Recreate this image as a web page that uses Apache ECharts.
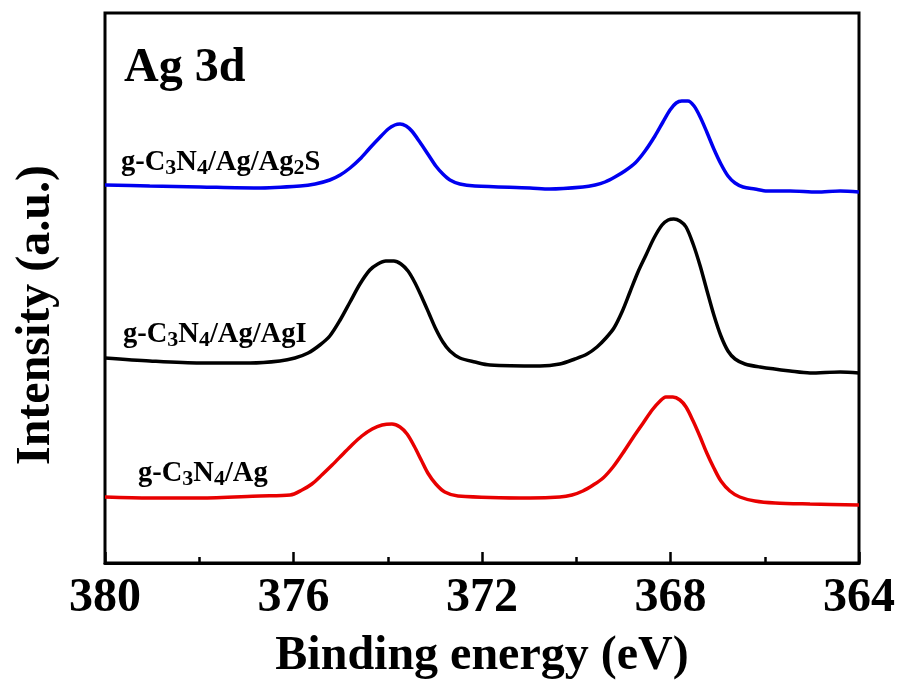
<!DOCTYPE html>
<html>
<head>
<meta charset="utf-8">
<script src="https://cdn.jsdelivr.net/npm/echarts@6/dist/echarts.min.js"></script>
<style>
  html, body { margin: 0; padding: 0; background: #fff; }
  #chart { width: 899px; height: 686px; }
</style>
</head>
<body>
<div id="chart"></div>
<script>
// Binding energy (eV) and intensity (a.u., offset-stacked)
var ag2sEnergy = [380.00, 379.05, 377.98, 376.77, 375.86, 375.54, 375.23, 375.01, 374.80, 374.59, 374.38, 374.16, 373.99, 373.85, 373.74, 373.61, 373.49, 373.32, 373.15, 372.98, 372.83, 372.68, 372.47, 372.15, 370.98, 370.56, 369.86, 369.60, 369.39, 369.18, 368.97, 368.75, 368.54, 368.33, 368.16, 368.01, 367.88, 367.76, 367.63, 367.50, 367.37, 367.23, 367.08, 366.93, 366.78, 366.63, 366.46, 366.21, 365.95, 365.46, 364.89, 364.40, 364.00];
var ag2sIntensity = [378, 377, 376, 375, 377, 379, 383, 388, 395, 404, 415, 426, 434, 438, 439, 437, 432, 421, 409, 397, 389, 383, 379, 377, 375, 374, 376, 378, 381, 386, 392, 400, 412, 427, 441, 453, 460, 462, 462, 457, 446, 431, 414, 399, 387, 380, 376, 374, 372, 372, 371, 372, 371];

var agiEnergy = [380.00, 379.05, 377.98, 376.92, 376.29, 375.97, 375.69, 375.44, 375.23, 375.01, 374.80, 374.59, 374.38, 374.21, 374.04, 373.87, 373.72, 373.57, 373.42, 373.27, 373.12, 372.98, 372.83, 372.68, 372.47, 372.15, 371.83, 370.77, 370.35, 370.03, 369.77, 369.56, 369.37, 369.20, 369.03, 368.86, 368.69, 368.52, 368.35, 368.18, 368.05, 367.93, 367.80, 367.67, 367.52, 367.37, 367.23, 367.08, 366.93, 366.78, 366.63, 366.42, 366.10, 365.46, 365.04, 364.40, 364.00];
var agiIntensity = [205, 202, 200, 200, 202, 205, 210, 218, 227, 243, 261, 279, 293, 299, 302, 302, 299, 292, 280, 265, 249, 234, 221, 212, 205, 201, 198, 197, 199, 204, 209, 216, 225, 235, 251, 271, 291, 308, 325, 338, 343, 344, 342, 336, 319, 297, 273, 248, 227, 212, 204, 199, 196, 192, 190, 191, 190];

var agEnergy = [380.00, 379.05, 377.98, 376.71, 376.07, 375.82, 375.61, 375.40, 375.18, 374.97, 374.76, 374.55, 374.33, 374.12, 373.91, 373.74, 373.59, 373.44, 373.29, 373.15, 372.98, 372.79, 372.51, 370.98, 370.35, 370.09, 369.86, 369.64, 369.43, 369.22, 369.01, 368.80, 368.58, 368.39, 368.22, 368.10, 367.95, 367.80, 367.67, 367.52, 367.37, 367.23, 367.08, 366.93, 366.74, 366.53, 366.21, 365.78, 365.04, 364.00];
var agIntensity = [66, 65, 65, 67, 68, 73, 79, 88, 98, 108, 118, 127, 134, 138, 139, 136, 129, 117, 103, 90, 79, 71, 67, 65, 66, 68, 72, 78, 85, 96, 110, 125, 140, 153, 162, 166, 166, 163, 156, 142, 126, 110, 95, 82, 72, 66, 62, 60, 59, 58];

var xTicks = [380, 376, 372, 368, 364];
var seriesNames = ['g-C3N4/Ag/Ag2S', 'g-C3N4/Ag/AgI', 'g-C3N4/Ag'];

function pairs(xs, ys) { return xs.map(function (x, i) { return [x, ys[i]]; }); }

var FONT = "'Times New Roman', 'Liberation Serif', serif";
var chart = echarts.init(document.getElementById('chart'), null, { renderer: 'canvas' });

var labRich = {
  a: { fontFamily: FONT, fontWeight: 'bold', fontSize: 28.5, color: '#000', verticalAlign: 'bottom', lineHeight: 30 },
  s: { fontFamily: FONT, fontWeight: 'bold', fontSize: 22, color: '#000', verticalAlign: 'bottom', lineHeight: 30, padding: [0, 0, -2, 0] }
};

chart.setOption({
  animation: false,
  backgroundColor: '#fff',
  grid: { left: 105, right: 40, top: 13, bottom: 123, show: true, borderColor: '#000', borderWidth: 3, backgroundColor: 'transparent' },
  xAxis: {
    type: 'value', min: 364, max: 380, interval: 4, inverse: true,
    name: 'Binding energy (eV)', nameLocation: 'middle', nameGap: 70,
    nameTextStyle: { fontFamily: FONT, fontWeight: 'bold', fontSize: 48, color: '#000' },
    axisLine: { show: true, lineStyle: { color: '#000', width: 3 } },
    axisTick: { show: true, inside: true, length: 11, lineStyle: { color: '#000', width: 2.5 } },
    minorTick: { show: true, splitNumber: 2, length: 6, lineStyle: { color: '#000', width: 2.5 } },
    splitLine: { show: false },
    axisLabel: { fontFamily: FONT, fontWeight: 'bold', fontSize: 48, color: '#000', margin: 12,
      formatter: function (v) { return xTicks.indexOf(v) >= 0 ? String(v) : ''; } }
  },
  yAxis: {
    type: 'value', min: 0, max: 550,
    name: 'Intensity (a.u.)', nameLocation: 'middle', nameGap: 44,
    nameTextStyle: { fontFamily: FONT, fontWeight: 'bold', fontSize: 48, color: '#000', padding: [0, 54, 0, 0] },
    axisLine: { show: false }, axisTick: { show: false }, axisLabel: { show: false }, splitLine: { show: false }
  },
  series: [
    { name: seriesNames[0], type: 'line', data: pairs(ag2sEnergy, ag2sIntensity), smooth: 0.3, showSymbol: false,
      lineStyle: { color: '#0000f0', width: 3.5 } },
    { name: seriesNames[1], type: 'line', data: pairs(agiEnergy, agiIntensity), smooth: 0.3, showSymbol: false,
      lineStyle: { color: '#000000', width: 3.5 } },
    { name: seriesNames[2], type: 'line', data: pairs(agEnergy, agIntensity), smooth: 0.3, showSymbol: false,
      lineStyle: { color: '#e80000', width: 3.5 } }
  ],
  graphic: [
    { type: 'text', left: 124, top: 45, style: { text: 'Ag 3d', fontFamily: FONT, fontWeight: 'bold', fontSize: 48, fill: '#000' } },
    { type: 'text', left: 121, top: 148, style: { text: '{a|g-C}{s|3}{a|N}{s|4}{a|/Ag/Ag}{s|2}{a|S}', rich: labRich } },
    { type: 'text', left: 123, top: 320, style: { text: '{a|g-C}{s|3}{a|N}{s|4}{a|/Ag/AgI}', rich: labRich } },
    { type: 'text', left: 138, top: 459, style: { text: '{a|g-C}{s|3}{a|N}{s|4}{a|/Ag}', rich: labRich } }
  ]
});
</script>
</body>
</html>
